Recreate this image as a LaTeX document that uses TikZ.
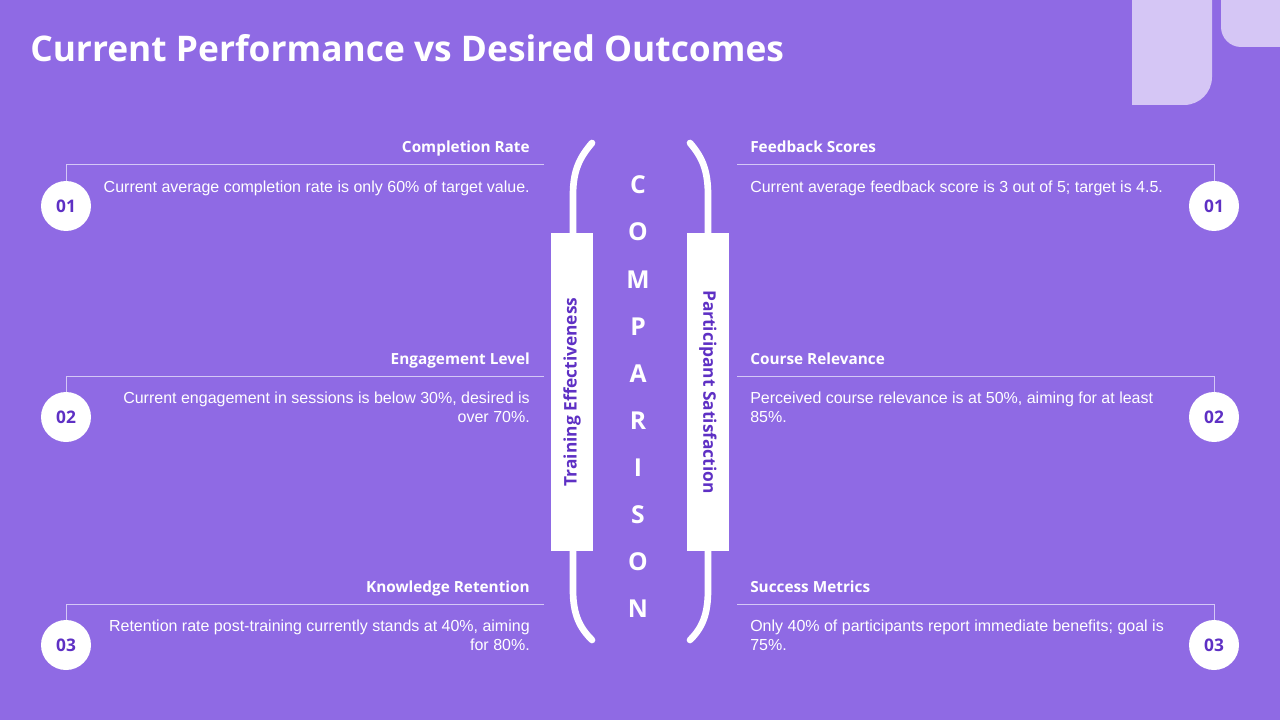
\documentclass[tikz,border=0pt]{standalone}
\usepackage{fontspec}
\setmainfont{Liberation Sans}
\newfontfamily\headfont{Open Sans}
\definecolor{slidebg}{RGB}{143,106,228}
\definecolor{slidelite}{RGB}{213,198,245}
\definecolor{slidedark}{RGB}{94,48,196}
\definecolor{slideline}{RGB}{212,200,246}

\begin{document}
\begin{tikzpicture}[x=0.75pt,y=-0.75pt,
  title/.style={anchor=base west,inner sep=0pt,text=white,font=\headfont\bfseries\fontsize{26.5}{31}\selectfont},
  head/.style={inner sep=0pt,text=white,font=\headfont\bfseries\fontsize{11.5}{14}\selectfont},
  body/.style={inner sep=0pt,text=white,font=\fontsize{12}{14.25}\selectfont},
  num/.style={circle,fill=white,minimum size=37.5pt,inner sep=0pt,text=slidedark,font=\headfont\bfseries\fontsize{13}{15}\selectfont},
  rule/.style={slideline,line width=0.75pt},
  brace/.style={white,line width=5pt,line cap=round},
  tag/.style={fill=white,minimum width=239pt,minimum height=31pt,inner sep=0pt,text=slidedark,font=\headfont\bfseries\fontsize{13}{15}\selectfont},
  letter/.style={text=white,font=\headfont\bfseries\fontsize{18.5}{20}\selectfont}]
  \clip (0,0) rectangle (1280,720);
  \fill[slidebg] (0,0) rectangle (1280,720);

  % corner decoration
  \fill[slidelite] (1132,-5) -- (1132,105) -- (1184,105)
    .. controls (1199.5,105) and (1212,92.5) .. (1212,77) -- (1212,-5) -- cycle;
  \fill[slidelite] (1221,-5) -- (1221,27)
    .. controls (1221,38) and (1230,47) .. (1241,47) -- (1285,47) -- (1285,-5) -- cycle;

  \node[title] (title) at (30,62) {Current Performance vs Desired Outcomes};

  % left column
  \foreach \y/\n/\hd/\bd in {
      165/01/{Completion Rate}/{Current average completion rate is only 60\% of target value.},
      376/02/{Engagement Level}/{Current engagement in sessions is below 30\%, desired is\\over 70\%.},
      604/03/{Knowledge Retention}/{Retention rate post-training currently stands at 40\%, aiming\\for 80\%.}} {
    \node[head,anchor=base east] (lhead\n) at (530,{\y-12}) {\hd};
    \node[body,anchor=north east,align=right] (lbody\n) at (530,{\y+16}) {\bd};
    \node[num] (lnum\n) at (66,{\y+41}) {\n};
    \coordinate (lend\n) at (544,\y);
    \draw[rule] (lend\n) -| (lnum\n);
  }

  % right column
  \foreach \y/\n/\hd/\bd in {
      165/01/{Feedback Scores}/{Current average feedback score is 3 out of 5; target is 4.5.},
      376/02/{Course Relevance}/{Perceived course relevance is at 50\%, aiming for at least\\85\%.},
      604/03/{Success Metrics}/{Only 40\% of participants report immediate benefits; goal is\\75\%.}} {
    \node[head,anchor=base west] (rhead\n) at (750,{\y-12}) {\hd};
    \node[body,anchor=north west,align=left] (rbody\n) at (750,{\y+16}) {\bd};
    \node[num] (rnum\n) at (1214,{\y+41}) {\n};
    \coordinate (rend\n) at (737,\y);
    \draw[rule] (rend\n) -| (rnum\n);
  }

  % brackets
  \draw[brace] (592,143) .. controls (580,157) and (573,170) .. (573,195)
    -- (573,590) .. controls (573,615) and (580,628) .. (592,640);
  \draw[brace] (690,143) .. controls (702,157) and (708,170) .. (708,195)
    -- (708,590) .. controls (708,615) and (702,628) .. (690,640);
  \node[tag,rotate=90] (ltag) at (572,392) {Training Effectiveness};
  \node[tag,rotate=-90] (rtag) at (708,392) {Participant Satisfaction};

  % vertical word
  \foreach \ch [count=\i] in {C,O,M,P,A,R,I,S,O,N}
    \node[letter] (let\i) at (638,{185+47.1*(\i-1)}) {\ch};
\end{tikzpicture}
\end{document}
